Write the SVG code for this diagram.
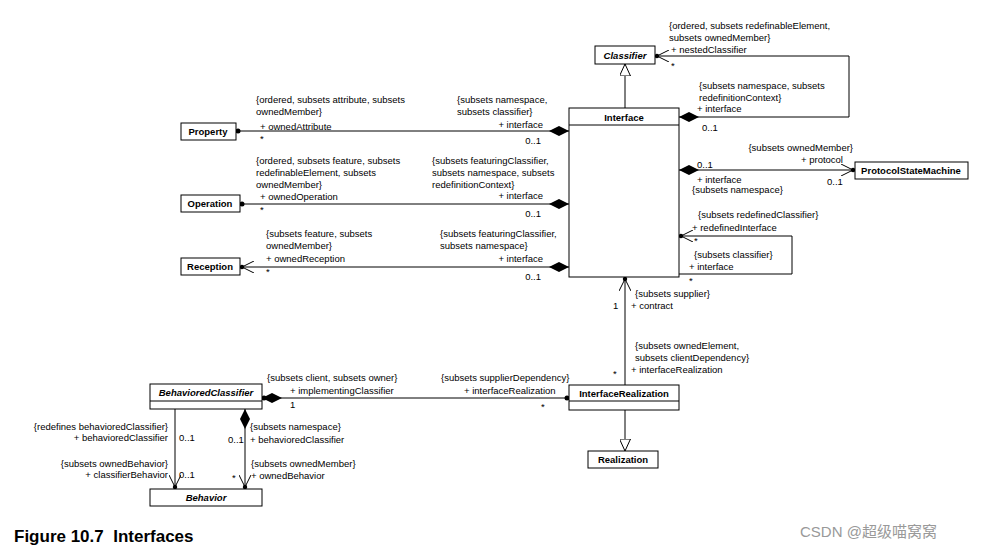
<svg xmlns="http://www.w3.org/2000/svg" width="985" height="551" viewBox="0 0 985 551">
<style>
text{font-family:"Liberation Sans",Arial,sans-serif;font-size:9.5px;fill:#000}
.b{font-weight:bold}.i{font-style:italic;font-weight:bold}
.r{text-anchor:end}.m{text-anchor:middle}
rect{fill:#fff;stroke:#000;stroke-width:1}
line,polyline{stroke:#000;stroke-width:1;fill:none}
.fd{fill:#000;stroke:none}
.fo{fill:none;stroke:#000;stroke-width:1}
.fw{fill:#fff;stroke:#000;stroke-width:1}
</style>
<defs>
<marker id="dia" viewBox="0 0 20 10" refX="20" refY="5" markerWidth="20" markerHeight="10" markerUnits="userSpaceOnUse" orient="auto-start-reverse"><path class="fd" d="M0,5 L10,0 L20,5 L10,10Z"/></marker>
<marker id="arr" viewBox="0 0 14 12" refX="14" refY="6" markerWidth="14" markerHeight="12" markerUnits="userSpaceOnUse" orient="auto"><path class="fo" d="M0,0 L12,6 L0,12"/><circle class="fd" cx="12" cy="6" r="2.2"/></marker>
<marker id="dot" viewBox="0 0 6 6" refX="5" refY="3" markerWidth="6" markerHeight="6" markerUnits="userSpaceOnUse" orient="auto"><circle class="fd" cx="3" cy="3" r="2.5"/></marker>
<marker id="gen" viewBox="0 0 12 11" refX="12" refY="5.5" markerWidth="12" markerHeight="11" markerUnits="userSpaceOnUse" orient="auto"><path class="fw" d="M0,0 L12,5.5 L0,11Z"/></marker>
</defs>
<g id="connectors">
<line x1="625" y1="108" x2="625" y2="64" marker-end="url(#gen)"/>
<polyline points="679,117 849,117 849,56 655,56" marker-start="url(#dia)" marker-end="url(#arr)"/>
<line x1="569" y1="131" x2="236" y2="131" marker-start="url(#dia)" marker-end="url(#dot)"/>
<line x1="569" y1="204" x2="240" y2="204" marker-start="url(#dia)" marker-end="url(#dot)"/>
<line x1="569" y1="267" x2="240" y2="267" marker-start="url(#dia)" marker-end="url(#arr)"/>
<line x1="679" y1="170" x2="855" y2="170" marker-start="url(#dia)" marker-end="url(#arr)"/>
<polyline points="679,274 792,274 792,236 679,236" marker-end="url(#arr)"/>
<line x1="625" y1="385" x2="625" y2="277" marker-end="url(#arr)"/>
<line x1="262" y1="398" x2="569" y2="398" marker-start="url(#dia)" marker-end="url(#dot)"/>
<line x1="268" y1="398" x2="262" y2="398" marker-end="url(#dot)"/>
<line x1="625" y1="410" x2="625" y2="451" marker-end="url(#gen)"/>
<line x1="175" y1="409" x2="175" y2="489" marker-end="url(#arr)"/>
<line x1="245" y1="409" x2="245" y2="489" marker-start="url(#dia)" marker-end="url(#arr)"/>
</g>
<g id="Classifier"><rect x="595" y="46" width="60" height="18"/><text class="i m" x="625" y="59">Classifier</text></g>
<g id="Interface"><rect x="569" y="108" width="110" height="169"/><line x1="569" y1="125" x2="679" y2="125"/><text class="b m" x="624" y="121">Interface</text></g>
<g id="Property"><rect x="181" y="123" width="55" height="17"/><text class="b m" x="208" y="135">Property</text></g>
<g id="Operation"><rect x="181" y="195" width="59" height="17"/><text class="b m" x="210" y="207">Operation</text></g>
<g id="Reception"><rect x="181" y="258" width="59" height="17"/><text class="b m" x="210" y="270">Reception</text></g>
<g id="ProtocolStateMachine"><rect x="855" y="162" width="113" height="17"/><text class="b m" x="911" y="174">ProtocolStateMachine</text></g>
<g id="InterfaceRealization"><rect x="569" y="385" width="110" height="25"/><line x1="569" y1="401" x2="679" y2="401"/><text class="b m" x="624" y="397">InterfaceRealization</text></g>
<g id="Realization"><rect x="588" y="451" width="70" height="17"/><text class="b m" x="623" y="463">Realization</text></g>
<g id="BehavioredClassifier"><rect x="150" y="384" width="112" height="25"/><line x1="150" y1="401" x2="262" y2="401"/><text class="i m" x="206" y="396">BehavioredClassifier</text></g>
<g id="Behavior"><rect x="150" y="489" width="112" height="17"/><text class="i m" x="206" y="501">Behavior</text></g>
<g id="labels">
<text x="669" y="29">{ordered, subsets redefinableElement,</text>
<text x="669" y="41">subsets ownedMember}</text>
<text x="671" y="53">+ nestedClassifier</text>
<text x="671" y="69">*</text>
<text x="699" y="89">{subsets namespace, subsets</text>
<text x="699" y="101">redefinitionContext}</text>
<text x="697" y="112">+ interface</text>
<text x="702" y="131">0..1</text>
<text x="256" y="103">{ordered, subsets attribute, subsets</text>
<text x="256" y="115">ownedMember}</text>
<text x="260" y="130">+ ownedAttribute</text>
<text x="260" y="142">*</text>
<text x="457" y="103">{subsets namespace,</text>
<text x="457" y="115">subsets classifier}</text>
<text class="r" x="543" y="128">+ interface</text>
<text class="r" x="541" y="144">0..1</text>
<text x="256" y="164">{ordered, subsets feature, subsets</text>
<text x="256" y="176">redefinableElement, subsets</text>
<text x="256" y="188">ownedMember}</text>
<text x="260" y="200">+ ownedOperation</text>
<text x="260" y="213">*</text>
<text x="432" y="164">{subsets featuringClassifier,</text>
<text x="432" y="176">subsets namespace, subsets</text>
<text x="432" y="188">redefinitionContext}</text>
<text class="r" x="543" y="199">+ interface</text>
<text class="r" x="541" y="217">0..1</text>
<text x="266" y="237">{subsets feature, subsets</text>
<text x="266" y="249">ownedMember}</text>
<text x="266" y="262">+ ownedReception</text>
<text x="266" y="275">*</text>
<text x="440" y="237">{subsets featuringClassifier,</text>
<text x="440" y="249">subsets namespace}</text>
<text class="r" x="543" y="262">+ interface</text>
<text class="r" x="541" y="280">0..1</text>
<text class="r" x="853" y="151">{subsets ownedMember}</text>
<text class="r" x="843" y="163">+ protocol</text>
<text x="697" y="168">0..1</text>
<text x="697" y="183">+ interface</text>
<text x="692" y="193">{subsets namespace}</text>
<text x="827" y="185">0..1</text>
<text x="698" y="218">{subsets redefinedClassifier}</text>
<text x="692" y="231">+ redefinedInterface</text>
<text x="694" y="244">*</text>
<text x="694" y="258">{subsets classifier}</text>
<text x="689" y="270">+ interface</text>
<text x="689" y="284">*</text>
<text x="635" y="297">{subsets supplier}</text>
<text x="631" y="309">+ contract</text>
<text x="613" y="309">1</text>
<text x="635" y="349">{subsets ownedElement,</text>
<text x="635" y="361">subsets clientDependency}</text>
<text x="631" y="373">+ interfaceRealization</text>
<text x="613" y="377">*</text>
<text x="267" y="381">{subsets client, subsets owner}</text>
<text x="290" y="394">+ implementingClassifier</text>
<text x="290" y="408">1</text>
<text x="441" y="381">{subsets supplierDependency}</text>
<text x="464" y="394">+ interfaceRealization</text>
<text x="541" y="410">*</text>
<text class="r" x="168" y="430">{redefines behavioredClassifier}</text>
<text class="r" x="168" y="441">+ behavioredClassifier</text>
<text x="179" y="441">0..1</text>
<text class="r" x="168" y="467">{subsets ownedBehavior}</text>
<text class="r" x="168" y="478">+ classifierBehavior</text>
<text x="179" y="478">0..1</text>
<text x="250" y="430">{subsets namespace}</text>
<text x="250" y="443">+ behavioredClassifier</text>
<text x="228" y="443">0..1</text>
<text x="251" y="467">{subsets ownedMember}</text>
<text x="251" y="479">+ ownedBehavior</text>
<text x="232" y="481">*</text>
</g>
<text x="14" y="542" style="font-size:17px;font-weight:bold;white-space:pre">Figure 10.7  Interfaces</text>
<text x="800" y="537" style="font-size:15px;fill:#999;font-family:'Liberation Sans','Noto Sans CJK SC',sans-serif">CSDN @超级喵窝窝</text>
</svg>
